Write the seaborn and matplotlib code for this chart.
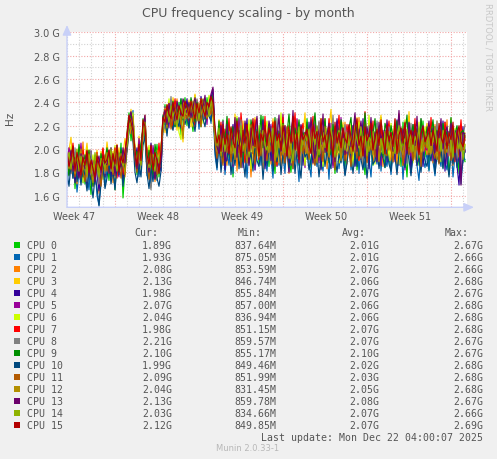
import numpy as np
import pandas as pd
import matplotlib
matplotlib.use('Agg')
import matplotlib.pyplot as plt
from matplotlib.patches import Rectangle
import seaborn as sns

W, H = 497, 460

# Munin colours for the 16 cores
cpu_names = [f'CPU {i}' for i in range(16)]
cpu_colors = ['#00CC00', '#0066B3', '#FF8000', '#FFCC00', '#330099', '#990099',
              '#CCFF00', '#FF0000', '#808080', '#008F00', '#00487D', '#B35A00',
              '#B38F00', '#6B006B', '#8FB300', '#B30000']

# one value every 4 hours, in units of 10 MHz (193 -> 1.93 GHz)
step_hours = 4

cpu0 = [172,195,181,203,166,190,178,199,185,170,196,182,161,188,176,192,168,184,199,175,
        190,173,201,186,165,194,180,205,158,183,214,231,207,222,192,178,201,186,226,208,
        183,199,171,193,187,204,176,195,221,238,214,229,242,219,233,225,240,212,231,244,
        220,236,228,215,241,226,233,219,238,225,244,231,236,248,203,188,214,196,225,183,
        207,192,218,176,211,199,226,185,203,217,190,209,181,222,198,213,187,205,228,194,
        211,185,219,201,179,214,196,224,188,206,217,192,180,209,221,197,186,215,203,190,
        226,199,184,212,205,191,218,183,209,223,196,188,214,201,179,206,220,193,211,185,
        203,216,190,207,225,182,199,213,194,178,208,221,197,186,215,204,191,227,200,184,
        212,195,181,206,219,192,210,185,223,198,176,209,214,190,203,218,186,201,224,193,
        207,182,215,199,188,211,196,221,184,205,213,178,200,217,191,206,179,212,198,189]
cpu1 = [170,186,199,175,192,163,181,196,171,188,178,165,193,172,184,160,152,175,189,168,
        182,197,174,188,169,193,179,201,172,185,205,222,216,233,185,196,176,192,218,223,
        177,190,168,199,182,173,194,186,228,216,235,222,240,226,219,237,231,243,224,236,
        229,218,240,232,225,238,217,234,242,226,231,239,222,245,195,182,205,191,214,178,
        198,186,211,179,203,192,218,184,196,207,175,201,189,215,182,197,209,186,220,193,
        181,204,192,175,213,199,186,208,194,179,217,188,201,183,206,195,172,210,198,187,
        203,189,176,211,197,185,214,192,181,206,199,174,209,188,196,217,183,200,191,178,
        194,208,182,199,186,213,179,202,195,184,209,191,176,205,198,187,216,181,203,193,
        185,200,178,196,210,183,193,205,174,199,188,212,180,195,207,186,173,201,192,184,
        198,181,206,189,177,203,194,185,211,190,182,199,207,176,195,188,204,170,193,191]
cpu2 = [188,201,179,194,185,170,197,183,206,176,190,199,181,168,193,186,162,189,200,177,
        194,183,198,171,189,204,180,195,187,176,209,225,213,227,199,183,205,190,215,229,
        186,201,178,195,172,190,183,198,219,232,226,240,221,236,229,243,217,233,238,225,
        240,227,235,219,246,230,222,238,231,243,226,236,229,241,208,196,221,187,213,200,
        186,219,203,192,225,181,208,197,214,189,221,204,176,210,199,226,191,205,183,216,
        198,211,187,224,202,193,215,184,207,220,196,179,212,203,189,225,201,194,217,186,
        209,195,221,187,204,215,190,208,198,226,183,211,202,193,219,206,188,214,197,223,
        187,212,200,219,191,205,227,196,184,213,207,198,222,189,203,216,194,208,185,211,
        218,201,190,214,206,187,223,199,211,192,205,228,186,209,197,215,202,189,220,204,
        195,213,204,188,221,199,207,216,190,203,225,194,209,186,214,201,197,219,206,208]
cpu3 = [181,199,210,186,195,173,201,188,176,192,205,184,197,170,188,199,182,175,194,187,
        206,191,183,198,175,190,201,184,196,209,197,218,234,210,203,192,211,198,220,227,
        195,183,204,190,176,199,186,201,226,214,238,229,221,244,235,216,231,225,206,239,
        228,242,219,235,247,226,238,221,233,240,229,237,246,224,210,199,225,192,216,204,
        221,197,211,189,230,205,214,193,224,208,199,218,186,211,227,201,195,213,188,222,
        207,219,193,226,200,212,188,217,229,203,196,214,208,190,223,205,217,194,211,231,
        199,214,206,191,220,208,197,226,203,212,189,218,234,200,209,195,216,204,223,192,
        215,203,221,196,209,227,190,213,204,219,198,207,223,193,211,202,217,229,196,208,
        204,220,193,211,225,199,214,207,186,218,203,232,197,210,221,194,206,215,190,213,
        222,198,209,217,192,224,205,199,213,189,218,207,226,195,204,212,200,219,208,214]
cpu4 = [193,178,189,202,171,187,196,182,175,190,167,184,198,173,186,179,164,181,192,176,
        199,185,176,193,180,203,188,196,174,190,211,226,218,229,190,201,183,195,219,214,
        197,182,205,188,174,196,190,181,224,233,219,238,227,222,241,230,235,218,236,229,
        243,225,232,240,221,237,228,245,233,226,239,231,244,251,205,188,218,197,210,182,
        214,195,206,221,189,209,198,217,184,203,226,192,211,200,187,219,196,208,225,183,
        201,216,190,207,222,185,212,199,218,193,205,180,214,226,191,203,197,220,186,209,
        195,223,204,188,213,200,219,182,207,215,194,221,198,186,210,224,193,205,217,190,
        212,197,206,220,185,214,201,192,226,199,208,183,217,204,195,222,188,211,200,216,
        189,218,203,194,211,225,186,207,199,215,191,223,180,209,202,196,219,212,185,205,
        216,194,208,221,187,203,212,198,224,181,206,215,193,210,200,186,169,204,219,197]
cpu5 = [186,201,192,180,197,175,189,205,184,193,176,188,198,181,170,191,185,178,196,183,
        190,179,201,187,195,182,176,199,186,193,207,219,227,214,197,186,209,194,212,225,
        184,197,176,203,190,181,198,187,223,236,229,218,241,232,226,237,222,239,230,227,
        236,222,241,233,228,239,225,243,230,237,221,244,235,240,207,193,216,186,224,199,
        190,211,203,185,218,197,227,193,206,214,188,221,199,209,182,216,204,195,219,191,
        213,200,221,188,207,195,216,204,230,191,209,199,186,218,202,226,193,211,205,184,
        219,198,207,193,225,204,188,213,199,216,207,192,222,184,211,200,195,227,203,214,
        196,209,187,220,203,214,198,191,208,225,189,205,217,201,193,212,219,186,207,199,
        208,193,216,202,189,211,228,197,204,182,215,206,194,221,199,186,210,224,192,201,
        199,216,205,190,219,208,194,213,201,223,187,210,197,215,206,189,218,200,209,207]
cpu6 = [195,186,202,177,190,199,184,193,171,188,201,179,186,195,176,189,182,198,174,191,
        185,198,181,193,203,177,190,185,199,182,208,224,217,231,200,189,196,183,214,219,
        190,203,181,195,186,174,199,188,221,235,226,243,219,238,228,233,214,208,242,231,
        225,239,233,220,245,228,236,242,222,237,230,246,239,233,213,202,195,221,190,211,
        197,223,205,191,214,228,188,209,219,196,207,225,183,212,201,194,220,206,189,215,
        224,193,210,203,218,187,209,231,195,212,200,221,188,206,216,192,223,199,208,186,
        211,204,225,196,190,214,207,222,185,201,218,193,209,226,197,213,188,205,220,202,
        198,219,207,186,215,201,223,194,210,205,191,229,200,213,187,220,206,196,214,203,
        215,190,222,206,199,212,187,218,203,225,194,208,216,188,211,201,223,197,205,219,
        204,212,193,221,208,197,216,189,209,222,200,214,191,207,218,196,211,205,199,204]
cpu7 = [197,184,191,205,178,195,188,172,199,186,193,180,174,190,183,197,176,189,201,185,
        192,180,196,188,201,175,194,186,178,197,213,229,220,210,193,184,202,188,222,216,
        198,185,202,179,194,188,205,184,226,234,220,239,231,217,243,228,236,224,212,240,
        233,224,238,229,219,242,235,227,240,232,226,237,243,231,215,200,208,223,196,217,
        204,226,193,212,205,219,197,231,209,188,220,203,214,196,225,207,191,216,203,228,
        192,217,208,223,199,186,214,205,227,198,211,220,194,208,231,202,189,213,222,197,
        216,201,212,228,195,209,223,190,206,217,202,226,198,213,187,210,229,200,215,205,
        221,207,196,214,225,203,190,218,209,232,199,211,204,224,193,216,206,219,201,212,
        209,224,200,191,216,207,230,198,213,222,195,208,217,203,226,189,212,220,207,199,
        213,199,227,205,210,218,193,216,204,223,208,197,221,211,189,216,203,225,200,198]
cpu8 = [183,196,189,175,201,186,192,180,195,184,172,189,199,178,191,184,170,193,186,179,
        199,188,181,195,186,202,179,191,198,184,201,215,228,219,199,188,192,184,210,226,
        190,176,165,187,199,178,193,185,222,217,236,228,245,224,232,239,220,234,227,241,
        231,226,239,222,234,243,228,236,225,241,233,229,238,244,211,196,219,189,206,213,
        193,215,206,187,222,199,210,225,191,204,217,186,213,198,209,221,195,207,188,216,
        203,190,218,207,195,226,201,213,188,210,219,197,205,223,190,214,202,186,217,209,
        191,213,203,219,186,208,224,196,211,201,190,217,206,229,194,203,214,189,208,221,
        209,195,212,200,228,191,206,217,186,213,202,220,195,208,189,224,211,198,205,216,
        197,219,206,188,214,201,225,193,209,218,187,204,222,199,212,191,207,226,196,203,
        214,203,190,217,205,224,198,211,186,207,220,195,213,201,216,192,209,199,210,221]
cpu9 = [189,177,198,186,193,181,204,190,176,195,185,199,182,168,192,187,178,196,183,190,
        201,186,193,179,197,188,184,200,192,181,206,220,231,215,186,198,191,205,217,224,
        185,199,188,176,204,192,182,197,229,221,237,226,232,241,219,235,228,243,225,233,
        238,229,244,235,223,240,231,226,242,236,230,239,234,245,212,201,224,193,217,206,
        228,204,195,219,211,226,200,215,189,222,207,198,225,213,194,217,205,229,201,212,
        196,221,210,203,227,191,215,206,222,198,213,230,203,192,218,209,225,200,214,207,
        223,207,198,216,231,204,193,219,210,226,201,214,195,221,208,217,199,225,212,203,
        206,218,227,199,211,220,194,214,205,231,208,197,219,212,226,201,216,209,193,222,
        215,202,220,211,197,224,209,218,203,213,229,196,210,221,205,217,200,226,211,204,
        219,208,213,225,201,216,207,196,222,210,215,203,227,198,212,220,206,214,216,210]
cpu10 = [180,168,187,175,191,172,183,169,186,177,164,181,173,158,176,167,151,170,184,166,
         175,189,170,182,165,186,178,190,168,183,198,215,221,206,180,171,187,176,203,211,
         179,166,184,172,189,175,168,181,218,227,211,230,222,216,233,224,219,236,228,221,
         229,218,234,225,215,231,222,237,226,219,233,228,224,239,199,184,205,180,197,188,
         191,205,178,196,186,209,183,199,192,176,203,188,197,181,207,190,185,200,174,195,
         186,198,208,181,194,189,204,178,196,187,201,184,192,206,179,198,189,175,203,193,
         197,182,191,205,187,198,176,194,202,185,199,190,183,207,194,180,196,188,204,177,
         188,203,194,179,196,185,209,191,182,198,175,193,205,187,190,201,183,197,192,184,
         199,187,181,202,193,178,196,206,189,184,200,191,177,195,204,186,192,180,198,190,
         185,197,190,203,179,194,188,199,183,205,192,176,196,187,201,184,193,178,189,199]
cpu11 = [187,194,182,197,176,189,184,193,180,172,188,196,179,185,174,190,182,168,187,195,
         181,193,186,178,196,183,189,175,194,187,203,219,226,210,191,180,196,187,213,219,
         188,174,195,183,191,178,186,197,220,231,225,236,217,229,238,226,233,221,240,230,
         226,237,231,223,240,229,235,219,243,232,226,238,230,241,206,192,212,199,186,208,
         197,211,189,205,218,193,202,184,213,196,208,190,221,199,187,210,203,194,216,200,
         190,206,198,215,185,203,211,194,200,188,219,197,207,183,212,201,192,208,196,214,
         203,191,210,197,186,214,199,205,189,216,202,193,208,198,182,211,205,196,213,190,
         211,198,185,207,203,192,217,200,194,209,188,212,199,205,193,214,190,203,207,196,
         194,210,201,189,213,205,197,216,186,203,208,195,211,190,204,199,215,185,207,202,
         206,195,209,198,192,211,187,204,213,196,201,208,190,215,197,206,193,210,200,209]
cpu12 = [191,183,197,186,179,194,188,200,182,190,176,193,185,171,189,196,180,186,192,181,
         197,186,192,180,199,188,183,196,190,178,205,222,217,228,195,186,199,190,216,220,
         193,182,198,186,178,191,187,200,223,229,218,237,226,233,221,240,231,224,209,236,
         230,238,226,241,233,224,239,229,236,243,227,234,240,232,209,198,214,194,207,200,
         203,212,196,208,191,214,205,199,217,202,188,209,220,197,206,213,193,204,211,198,
         208,197,215,203,190,211,201,219,195,207,213,192,204,216,199,210,188,205,212,201,
         196,209,203,214,199,188,212,205,198,219,203,194,210,201,215,197,207,190,206,213,
         203,214,196,208,220,199,205,192,211,203,216,198,207,195,212,204,189,210,201,215,
         210,199,207,194,212,203,218,200,195,209,204,213,197,206,191,214,202,208,198,211,
         201,212,196,208,204,191,215,199,210,203,197,213,206,194,209,201,216,198,205,204]
cpu13 = [194,186,199,181,192,187,175,196,189,183,198,178,191,185,172,188,194,180,190,186,
         187,199,184,193,177,190,196,185,201,188,207,226,232,218,194,183,202,191,220,229,
         191,180,197,188,175,194,183,190,225,233,221,239,228,236,224,241,232,229,243,238,
         231,240,227,236,244,233,222,239,235,246,229,238,247,253,215,202,196,220,205,189,
         221,199,212,204,227,193,216,208,197,224,211,186,218,203,214,228,196,209,221,190,
         205,224,213,190,217,209,229,198,211,220,194,215,206,233,199,212,188,221,207,214,
         214,201,227,208,192,219,211,204,230,197,213,222,200,216,189,226,210,203,218,195,
         209,220,202,215,231,198,212,224,206,193,219,208,227,201,214,189,223,207,216,200,
         225,206,214,198,220,209,233,201,217,211,196,222,208,215,203,228,199,213,220,207,
         212,224,203,218,197,215,209,226,200,213,219,205,222,211,196,216,207,169,214,213]
cpu14 = [190,197,183,193,187,200,181,194,186,191,178,195,188,182,197,185,176,192,189,184,
         196,188,200,185,193,181,197,190,186,199,204,217,224,212,198,190,200,186,214,223,
         195,184,199,189,181,196,188,202,218,226,232,223,237,228,234,219,230,238,226,233,
         235,227,241,232,229,237,224,243,236,231,239,228,242,237,214,203,218,197,209,198,
         211,199,217,205,195,212,204,220,198,209,215,193,207,218,201,213,196,210,216,203,
         199,214,206,218,201,193,211,207,221,197,209,215,203,190,212,206,219,198,208,213,
         207,217,199,211,204,220,195,209,214,201,212,197,218,206,193,210,216,203,209,199,
         214,203,211,197,216,208,201,219,205,212,194,210,207,215,200,218,204,209,196,213,
         201,215,209,204,196,212,220,199,210,206,217,202,213,198,211,205,218,200,207,215,
         210,197,214,206,219,203,209,198,216,211,202,213,205,193,214,207,200,212,191,203]
cpu15 = [196,185,193,202,181,197,189,178,193,186,199,180,190,183,176,194,187,182,195,188,
         191,199,183,196,187,203,180,194,188,198,209,228,223,215,199,186,204,190,225,219,
         195,187,203,182,197,190,179,199,227,223,238,230,226,240,232,225,237,231,228,241,
         236,228,241,233,226,239,231,243,234,228,240,236,245,240,218,205,212,198,221,204,
         213,196,219,207,201,224,209,193,216,205,221,198,210,226,202,215,194,213,207,220,
         203,218,210,196,224,207,213,199,220,209,194,216,205,228,200,214,191,219,208,212,
         217,203,196,221,209,215,200,226,206,212,198,219,210,193,223,205,214,201,218,209,
         205,221,210,198,215,226,203,211,194,219,207,213,222,199,209,217,203,225,208,196,
         220,207,214,202,226,196,212,218,205,223,199,210,216,204,221,208,195,213,219,206,
         211,219,203,216,207,198,222,210,205,217,200,214,208,223,197,212,220,206,202,212]

series = [cpu0, cpu1, cpu2, cpu3, cpu4, cpu5, cpu6, cpu7,
          cpu8, cpu9, cpu10, cpu11, cpu12, cpu13, cpu14, cpu15]

# legend statistics
cur = ['1.89G', '1.93G', '2.08G', '2.13G', '1.98G', '2.07G', '2.04G', '1.98G',
       '2.21G', '2.10G', '1.99G', '2.09G', '2.04G', '2.13G', '2.03G', '2.12G']
mins = ['837.64M', '875.05M', '853.59M', '846.74M', '855.84M', '857.00M', '836.94M', '851.15M',
        '859.57M', '855.17M', '849.46M', '851.99M', '831.45M', '859.78M', '834.66M', '849.85M']
avgs = ['2.01G', '2.01G', '2.07G', '2.06G', '2.07G', '2.06G', '2.06G', '2.07G',
        '2.07G', '2.10G', '2.02G', '2.03G', '2.05G', '2.08G', '2.07G', '2.07G']
maxs = ['2.67G', '2.66G', '2.66G', '2.68G', '2.67G', '2.68G', '2.68G', '2.68G',
        '2.67G', '2.67G', '2.68G', '2.68G', '2.68G', '2.67G', '2.66G', '2.69G']

y_ticks = [1.6, 1.8, 2.0, 2.2, 2.4, 2.6, 2.8, 3.0]
week_labels = ['Week 47', 'Week 48', 'Week 49', 'Week 50', 'Week 51']

lens = [len(s) for s in series]
if len(set(lens)) != 1:
    raise ValueError(f'series lengths differ: {lens}')

rows = []
for name, vals in zip(cpu_names, series):
    for i, v in enumerate(vals):
        rows.append((name, i * step_hours, v * 1e7))
df = pd.DataFrame(rows, columns=['cpu', 'hours', 'hz'])

sns.set_theme(style='white')
plt.rcParams['font.family'] = ['DejaVu Sans']

txt = '#555555'
red_grid = '#f2a6a6'
gray_grid = '#d2d2d2'
axis_col = '#c8d0f8'


def fp(x, y):
    # pixel position -> figure fraction
    return x / W, 1 - y / H


fig = plt.figure(figsize=(W / 100, H / 100), dpi=100, facecolor='#f0f0f0')
ax = fig.add_axes([67 / W, 1 - 208.3 / H, 400 / W, 175 / H])
ax.set_facecolor('white')

# grid
for k in range(15):
    v = (16 + k) / 10 * 1e9
    major = k % 2 == 0
    ax.axhline(v, color=red_grid if major else gray_grid, lw=0.8,
               ls=(0, (1, 1.5)), zorder=0)
for h in range(0, 800, 24):
    major = (h - 96) % 168 == 0
    ax.axvline(h, color=red_grid if major else gray_grid, lw=0.8,
               ls=(0, (1, 1.5)), zorder=0)

sns.lineplot(data=df, x='hours', y='hz', hue='cpu', hue_order=cpu_names,
             palette=dict(zip(cpu_names, cpu_colors)), estimator=None,
             legend=False, lw=0.85, ax=ax, zorder=2)

ax.set_xlim(0, 800)
ax.set_ylim(1.5e9, 3.0e9)
ax.set_yticks([v * 1e9 for v in y_ticks], labels=[f'{v:.1f} G' for v in y_ticks])
ax.set_xticks([14 + 168 * k for k in range(5)], labels=week_labels)
ax.set_xticks([96 + 168 * k for k in range(5)], minor=True)
ax.tick_params(axis='both', which='major', length=0, labelsize=7, colors=txt)
ax.tick_params(axis='y', pad=5)
ax.tick_params(axis='x', pad=3)
ax.tick_params(axis='x', which='minor', length=3, direction='inout', color=red_grid)
ax.set_xlabel('')
ax.set_ylabel('')
for s in ax.spines.values():
    s.set_visible(False)

# axes with arrows
arrow = dict(arrowstyle='-|>,head_length=0.5,head_width=0.22', color=axis_col,
             lw=1, shrinkA=0, shrinkB=0)
ax.annotate('', xy=fp(474, 208.3), xytext=fp(67, 208.3), xycoords='figure fraction',
            textcoords='figure fraction', arrowprops=arrow)
ax.annotate('', xy=fp(67, 26), xytext=fp(67, 208.3), xycoords='figure fraction',
            textcoords='figure fraction', arrowprops=arrow)

fig.text(*fp(248, 13), 'CPU frequency scaling - by month', ha='center', va='center',
         size=9, color=txt)
fig.text(*fp(10, 118), 'Hz', ha='center', va='center', rotation=90, size=7.5, color=txt)
fig.text(*fp(488, 57), 'RRDTOOL / TOBI OETIKER', ha='center', va='center',
         rotation=270, size=6, color='#c8c8c8')

# legend block
mono = dict(family='DejaVu Sans Mono', size=7.1, color=txt, va='center')
for label, xr in zip(['Cur:', 'Min:', 'Avg:', 'Max:'], [158, 262, 366, 469]):
    fig.text(*fp(xr, 233.3), label, ha='right', **mono)
for k, name in enumerate(cpu_names):
    y = 245.7 + 12 * k
    fig.patches.append(Rectangle(fp(14, y + 3), 6 / W, 6 / H, transform=fig.transFigure,
                                 facecolor=cpu_colors[k], edgecolor='none'))
    fig.text(*fp(26.7, y), name, ha='left', **mono)
    fig.text(*fp(172, y), cur[k], ha='right', **mono)
    fig.text(*fp(276, y), mins[k], ha='right', **mono)
    fig.text(*fp(379, y), avgs[k], ha='right', **mono)
    fig.text(*fp(483, y), maxs[k], ha='right', **mono)
fig.text(*fp(483, 437.7), 'Last update: Mon Dec 22 04:00:07 2025', ha='right', **mono)
fig.text(*fp(248, 449), 'Munin 2.0.33-1', ha='center', va='center', size=6, color='#b8b8b8')

fig.savefig('out.png', dpi=100, facecolor=fig.get_facecolor())
